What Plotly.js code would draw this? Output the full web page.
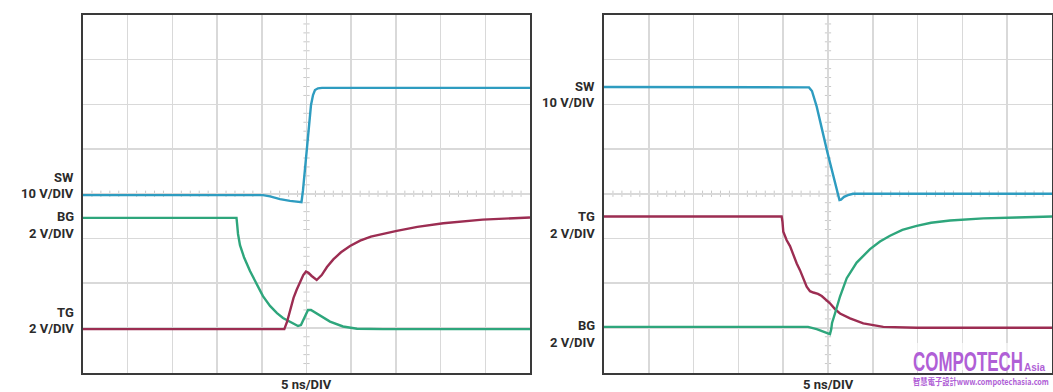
<!DOCTYPE html>
<html>
<head>
<meta charset="utf-8">
<script src="https://cdn.plot.ly/plotly-3.0.1.min.js"></script>
<style>html,body{margin:0;padding:0;background:#fff;}#chart{width:1053px;height:392px;}</style>
</head>
<body>
<div id="chart"></div>
<script>
// Time in ns (5 ns/DIV), amplitude in divisions (0..8 from bottom)
const swLeftT = [-25, -4.87, -4.08, -2.96, -1.85, -0.95, -0.56, -0.39, -0.17, 0.06, 0.28, 0.50, 0.73, 0.95, 1.29, 1.73, 25];
const swLeftV = [3.97, 3.97, 3.94, 3.88, 3.84, 3.81, 3.81, 4.08, 4.53, 5.04, 5.56, 5.98, 6.21, 6.32, 6.36, 6.37, 6.37];

const bgLeftT = [-25, -7.83, -7.75, -7.66, -7.44, -6.99, -6.32, -5.54, -4.87, -4.08, -3.30, -2.63, -1.85, -0.95, -0.62, -0.17, 0.17, 0.50, 1.06, 1.85, 2.63, 4.08, 5.65, 8.56, 25];
const bgLeftV = [3.46, 3.46, 3.30, 3.10, 2.85, 2.58, 2.27, 1.96, 1.71, 1.49, 1.33, 1.22, 1.13, 1.04, 1.06, 1.25, 1.40, 1.40, 1.33, 1.22, 1.14, 1.03, 0.98, 0.97, 0.97];

const tgLeftT = [-25, -2.48, -2.18, -1.85, -1.45, -1.10, -0.73, -0.36, -0.06, 0.22, 0.58, 1.14, 1.70, 2.29, 3.00, 3.86, 4.87, 6.00, 7.20, 8.60, 10.10, 12.40, 15.30, 19.70, 25];
const tgLeftV = [0.97, 0.97, 1.13, 1.40, 1.67, 1.85, 2.02, 2.18, 2.26, 2.23, 2.16, 2.07, 2.18, 2.36, 2.53, 2.69, 2.83, 2.95, 3.04, 3.11, 3.17, 3.26, 3.34, 3.42, 3.47];

const swRightT = [-25, -2.40, -2.12, -1.79, -1.51, -1.26, -0.06, 1.15, 1.28, 1.45, 1.79, 2.23, 2.79, 25];
const swRightV = [6.39, 6.39, 6.38, 6.30, 6.14, 5.95, 4.92, 3.90, 3.86, 3.87, 3.93, 3.97, 4.00, 4.00];

const tgRightT = [-25, -5.17, -5.08, -4.99, -4.61, -4.24, -3.49, -3.13, -2.38, -2.01, -1.64, -1.12, -0.70, -0.22, 0.22, 0.78, 1.34, 2.46, 3.94, 6.17, 9.90, 25];
const tgRightV = [3.49, 3.49, 3.37, 3.15, 2.96, 2.83, 2.44, 2.29, 1.92, 1.82, 1.79, 1.76, 1.71, 1.63, 1.55, 1.42, 1.32, 1.21, 1.10, 1.02, 1.00, 1.00];

const bgRightT = [-25, -2.23, -1.26, -0.33, 0.22, 0.36, 0.45, 0.78, 1.34, 2.09, 3.20, 4.69, 5.80, 6.92, 8.30, 9.90, 11.50, 13.62, 17.33, 21.05, 25];
const bgRightV = [1.02, 1.02, 0.97, 0.91, 0.86, 0.97, 1.11, 1.32, 1.70, 2.11, 2.46, 2.76, 2.93, 3.06, 3.19, 3.28, 3.35, 3.40, 3.45, 3.47, 3.49];

const leftLabels = [["SW", 4.37], ["10 V/DIV", 4.01], ["BG", 3.48], ["2 V/DIV", 3.12], ["TG", 1.34], ["2 V/DIV", 0.98]];
const rightLabels = [["SW", 6.41], ["10 V/DIV", 6.05], ["TG", 3.48], ["2 V/DIV", 3.10], ["BG", 1.06], ["2 V/DIV", 0.68]];
const timebaseLabel = "5 ns/DIV";
const brandMain = "COMPOTECH", brandSub = "Asia", brandLine = "智慧電子設計www.compotechasia.com";

const BLUE = "#2e9cc0", GREEN = "#2ea67c", RED = "#9c2d52";

function tr(x, y, color, xa, ya) {
  return {x: x, y: y, xaxis: xa, yaxis: ya, mode: "lines", type: "scatter",
          line: {color: color, width: 2.4}, hoverinfo: "skip"};
}
const data = [
  tr(swLeftT, swLeftV, BLUE, "x", "y"),
  tr(bgLeftT, bgLeftV, GREEN, "x", "y"),
  tr(tgLeftT, tgLeftV, RED, "x", "y"),
  tr(swRightT, swRightV, BLUE, "x2", "y2"),
  tr(tgRightT, tgRightV, RED, "x2", "y2"),
  tr(bgRightT, bgRightV, GREEN, "x2", "y2")
];

const W = 1053, H = 392;
const yDom = [(H - 372.5) / H, (H - 15) / H];
function xa(dom, anchor) {
  return {domain: dom, range: [-25, 25], dtick: 5, tick0: -25, showgrid: true, gridcolor: "#d9d9d9", gridwidth: 1.5,
          zeroline: false, showline: true, mirror: true, linecolor: "#3a3a3a", linewidth: 2,
          showticklabels: false, ticks: "", anchor: anchor, fixedrange: true};
}
function ya(dom, anchor) {
  return {domain: dom, range: [0, 8], dtick: 1, tick0: 0, showgrid: true, gridcolor: "#d9d9d9", gridwidth: 1.5,
          zeroline: false, showline: true, mirror: true, linecolor: "#3a3a3a", linewidth: 2,
          showticklabels: false, ticks: "", anchor: anchor, fixedrange: true};
}

// center-line minor ticks (axis decoration)
const shapes = [];
[["x", "y"], ["x2", "y2"]].forEach(([xr, yr]) => {
  for (let t = -25; t <= 25; t += 1) {
    if (t % 5 === 0) continue;
    shapes.push({type: "line", xref: xr, yref: yr, x0: t, x1: t, y0: 3.93, y1: 4.07, line: {color: "#c9c9c9", width: 1}, layer: "below"});
  }
  for (let k = 0; k <= 40; k++) {
    if (k % 5 === 0) continue;
    const v = k * 0.2;
    shapes.push({type: "line", xref: xr, yref: yr, x0: -0.35, x1: 0.35, y0: v, y1: v, line: {color: "#c9c9c9", width: 1}, layer: "below"});
  }
});
// faded watermark backdrop
shapes.push({type: "rect", xref: "paper", yref: "paper", x0: 906 / W, x1: 1049 / W, y0: (H - 370) / H, y1: (H - 343) / H,
             fillcolor: "rgba(255,255,255,0.6)", line: {width: 0}, layer: "above"});

const labelFont = {family: "Roboto, 'Liberation Sans', Arial, sans-serif", size: 13, color: "#2b2b2b", weight: 700};
const annotations = [];
leftLabels.forEach(([txt, v]) => annotations.push({xref: "x domain", yref: "y", x: 0, y: v, xanchor: "right", yanchor: "middle",
  xshift: -7, text: txt, showarrow: false, font: labelFont}));
rightLabels.forEach(([txt, v]) => annotations.push({xref: "x2 domain", yref: "y2", x: 0, y: v, xanchor: "right", yanchor: "middle",
  xshift: -7, text: txt, showarrow: false, font: labelFont}));
annotations.push({xref: "x", yref: "paper", x: 0, y: (H - 384.5) / H, xanchor: "center", yanchor: "middle", text: timebaseLabel, showarrow: false, font: labelFont});
annotations.push({xref: "x2", yref: "paper", x: 0, y: (H - 384.5) / H, xanchor: "center", yanchor: "middle", text: timebaseLabel, showarrow: false, font: labelFont});

const PURPLE = "#b05fd6";
annotations.push({xref: "paper", yref: "paper", x: 911 / W, y: (H - 361.5) / H, xanchor: "left", yanchor: "middle", text: brandMain,
  showarrow: false, font: {family: "'Liberation Sans', Arial, sans-serif", size: 27, color: PURPLE, weight: 700}});
annotations.push({xref: "paper", yref: "paper", x: 1022 / W, y: (H - 367) / H, xanchor: "left", yanchor: "middle", text: brandSub,
  showarrow: false, font: {family: "'Liberation Sans', Arial, sans-serif", size: 10, color: PURPLE, weight: 700}});
annotations.push({xref: "paper", yref: "paper", x: 911 / W, y: (H - 381) / H, xanchor: "left", yanchor: "middle", text: brandLine,
  showarrow: false, font: {family: "'Noto Sans CJK TC', 'Liberation Sans', sans-serif", size: 9, color: PURPLE, weight: 700}});

const layout = {
  width: W, height: H, margin: {l: 0, r: 0, t: 0, b: 0, pad: 0},
  paper_bgcolor: "#ffffff", plot_bgcolor: "#ffffff", showlegend: false,
  xaxis: xa([83 / W, 530 / W], "y"), yaxis: ya(yDom, "x"),
  xaxis2: xa([604 / W, 1052 / W], "y2"), yaxis2: ya(yDom, "x2"),
  shapes: shapes, annotations: annotations
};

// condense the watermark texts horizontally to the reference widths
function condense(txt, targetWidth) {
  document.querySelectorAll("#chart text.annotation-text").forEach(el => {
    if (el.textContent !== txt) return;
    const w = el.getBoundingClientRect().width;
    if (!w) return;
    const s = Math.min(1, targetWidth / w);
    const b = el.getBBox();
    el.setAttribute("transform", "translate(" + (b.x * (1 - s)) + ",0) scale(" + s + ",1)");
  });
}

Plotly.newPlot("chart", data, layout, {displayModeBar: false, staticPlot: true}).then(() => {
  condense(brandMain, 110);
  condense(brandLine, 136);
});
</script>
</body>
</html>
